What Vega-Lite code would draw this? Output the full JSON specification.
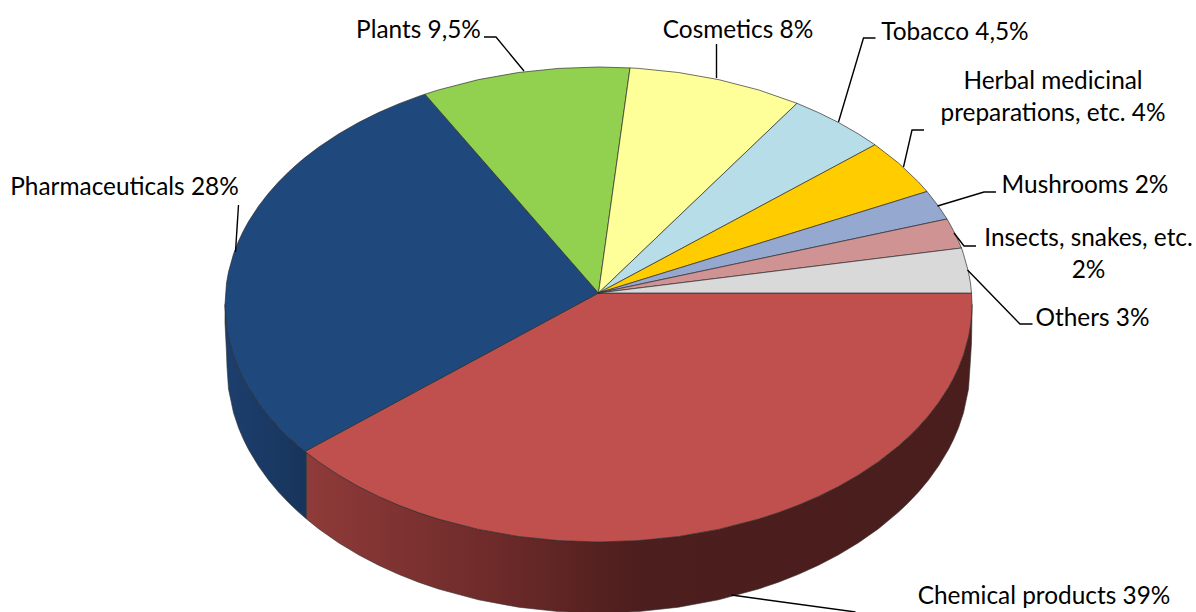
{"$schema":"https://vega.github.io/schema/vega-lite/v6.json","width":1196,"height":612,"padding":0,"autosize":{"type":"none"},"background":"white","view":{"stroke":null},
"datasets":{
"walls":[
{"wall":"Pharmaceuticals","x":-373.5,"y":-11.5,"y2":-30},{"wall":"Pharmaceuticals","x":-372,"y":-32.8,"y2":-60},{"wall":"Pharmaceuticals","x":-371.5,"y":-36,"y2":-74},{"wall":"Pharmaceuticals","x":-370,"y":-43.9,"y2":-96},{"wall":"Pharmaceuticals","x":-365,"y":-61.9,"y2":-119.8},{"wall":"Pharmaceuticals","x":-360,"y":-74.8,"y2":-134.8},{"wall":"Pharmaceuticals","x":-355,"y":-85.3,"y2":-146.5},{"wall":"Pharmaceuticals","x":-350,"y":-94.4,"y2":-156.5},{"wall":"Pharmaceuticals","x":-340,"y":-109.8,"y2":-173.1},{"wall":"Pharmaceuticals","x":-330,"y":-122.7,"y2":-187},{"wall":"Pharmaceuticals","x":-320,"y":-134,"y2":-199},{"wall":"Pharmaceuticals","x":-310,"y":-144,"y2":-209.6},{"wall":"Pharmaceuticals","x":-300,"y":-153,"y2":-219.1},{"wall":"Pharmaceuticals","x":-292,"y":-159.6,"y2":-226},
{"wall":"Chemical products","x":-292,"y":-159.6,"y2":-226},{"wall":"Chemical products","x":-280,"y":-168.7,"y2":-235.7},{"wall":"Chemical products","x":-260,"y":-182,"y2":-249.7},{"wall":"Chemical products","x":-240,"y":-193.5,"y2":-261.8},{"wall":"Chemical products","x":-220,"y":-203.4,"y2":-272.2},{"wall":"Chemical products","x":-200,"y":-212.1,"y2":-281.3},{"wall":"Chemical products","x":-180,"y":-219.6,"y2":-289.2},{"wall":"Chemical products","x":-160,"y":-226.1,"y2":-296},{"wall":"Chemical products","x":-120,"y":-236.4,"y2":-306.8},{"wall":"Chemical products","x":-80,"y":-243.5,"y2":-314.2},{"wall":"Chemical products","x":-40,"y":-247.6,"y2":-318.6},{"wall":"Chemical products","x":0,"y":-249,"y2":-320},{"wall":"Chemical products","x":40,"y":-247.6,"y2":-318.6},{"wall":"Chemical products","x":80,"y":-243.5,"y2":-314.2},{"wall":"Chemical products","x":120,"y":-236.4,"y2":-306.8},{"wall":"Chemical products","x":160,"y":-226.1,"y2":-296},{"wall":"Chemical products","x":180,"y":-219.6,"y2":-289.2},{"wall":"Chemical products","x":200,"y":-212.1,"y2":-281.3},{"wall":"Chemical products","x":220,"y":-203.4,"y2":-272.2},{"wall":"Chemical products","x":240,"y":-193.5,"y2":-261.8},{"wall":"Chemical products","x":260,"y":-182,"y2":-249.7},{"wall":"Chemical products","x":280,"y":-168.7,"y2":-235.7},{"wall":"Chemical products","x":300,"y":-153,"y2":-219.1},{"wall":"Chemical products","x":310,"y":-144,"y2":-209.6},{"wall":"Chemical products","x":320,"y":-134,"y2":-199},{"wall":"Chemical products","x":330,"y":-122.7,"y2":-187},{"wall":"Chemical products","x":340,"y":-109.8,"y2":-173.1},{"wall":"Chemical products","x":350,"y":-94.4,"y2":-156.5},{"wall":"Chemical products","x":355,"y":-85.3,"y2":-146.5},{"wall":"Chemical products","x":360,"y":-74.8,"y2":-134.8},{"wall":"Chemical products","x":365,"y":-61.9,"y2":-119.8},{"wall":"Chemical products","x":370,"y":-43.9,"y2":-96},{"wall":"Chemical products","x":371.5,"y":-36,"y2":-74},{"wall":"Chemical products","x":373,"y":-23.8,"y2":-50},{"wall":"Chemical products","x":373.5,"y":-11.5,"y2":-20}
],
"slices":[
{"slice":"Chemical products","x":-293.5,"y":-158.4,"y2":-158.4},{"slice":"Chemical products","x":-280,"y":-151.1,"y2":-168.7},{"slice":"Chemical products","x":-260,"y":-140.3,"y2":-182},{"slice":"Chemical products","x":-240,"y":-129.5,"y2":-193.5},{"slice":"Chemical products","x":-220,"y":-118.7,"y2":-203.4},{"slice":"Chemical products","x":-200,"y":-107.9,"y2":-212.1},{"slice":"Chemical products","x":-180,"y":-97.1,"y2":-219.6},{"slice":"Chemical products","x":-160,"y":-86.4,"y2":-226.1},{"slice":"Chemical products","x":-120,"y":-64.8,"y2":-236.4},{"slice":"Chemical products","x":-80,"y":-43.2,"y2":-243.5},{"slice":"Chemical products","x":-40,"y":-21.6,"y2":-247.6},{"slice":"Chemical products","x":0,"y":0,"y2":-249},{"slice":"Chemical products","x":40,"y":0,"y2":-247.6},{"slice":"Chemical products","x":80,"y":0,"y2":-243.5},{"slice":"Chemical products","x":120,"y":0,"y2":-236.4},{"slice":"Chemical products","x":160,"y":0,"y2":-226.1},{"slice":"Chemical products","x":180,"y":0,"y2":-219.6},{"slice":"Chemical products","x":200,"y":0,"y2":-212.1},{"slice":"Chemical products","x":220,"y":0,"y2":-203.4},{"slice":"Chemical products","x":240,"y":0,"y2":-193.5},{"slice":"Chemical products","x":260,"y":0,"y2":-182},{"slice":"Chemical products","x":280,"y":0,"y2":-168.7},{"slice":"Chemical products","x":300,"y":0,"y2":-153},{"slice":"Chemical products","x":310,"y":0,"y2":-144},{"slice":"Chemical products","x":320,"y":0,"y2":-134},{"slice":"Chemical products","x":330,"y":0,"y2":-122.7},{"slice":"Chemical products","x":340,"y":0,"y2":-109.8},{"slice":"Chemical products","x":350,"y":0,"y2":-94.4},{"slice":"Chemical products","x":355,"y":0,"y2":-85.3},{"slice":"Chemical products","x":360,"y":0,"y2":-74.8},{"slice":"Chemical products","x":365,"y":0,"y2":-61.9},{"slice":"Chemical products","x":370,"y":0,"y2":-43.9},{"slice":"Chemical products","x":372,"y":0,"y2":-32.8},{"slice":"Chemical products","x":373,"y":0,"y2":-23.8},{"slice":"Chemical products","x":373.5,"y":-11.5,"y2":-11.5},
{"slice":"Pharmaceuticals","x":-373.5,"y":-11.5,"y2":-11.5},{"slice":"Pharmaceuticals","x":-372,"y":9.8,"y2":-32.8},{"slice":"Pharmaceuticals","x":-370,"y":20.9,"y2":-43.9},{"slice":"Pharmaceuticals","x":-365,"y":38.9,"y2":-61.9},{"slice":"Pharmaceuticals","x":-360,"y":51.8,"y2":-74.8},{"slice":"Pharmaceuticals","x":-355,"y":62.3,"y2":-85.3},{"slice":"Pharmaceuticals","x":-350,"y":71.4,"y2":-94.4},{"slice":"Pharmaceuticals","x":-340,"y":86.8,"y2":-109.8},{"slice":"Pharmaceuticals","x":-330,"y":99.7,"y2":-122.7},{"slice":"Pharmaceuticals","x":-320,"y":111,"y2":-134},{"slice":"Pharmaceuticals","x":-310,"y":121,"y2":-144},{"slice":"Pharmaceuticals","x":-300,"y":130,"y2":-153},{"slice":"Pharmaceuticals","x":-293.5,"y":135.4,"y2":-158.4},{"slice":"Pharmaceuticals","x":-280,"y":145.7,"y2":-151.1},{"slice":"Pharmaceuticals","x":-260,"y":159,"y2":-140.3},{"slice":"Pharmaceuticals","x":-240,"y":170.5,"y2":-129.5},{"slice":"Pharmaceuticals","x":-220,"y":180.4,"y2":-118.7},{"slice":"Pharmaceuticals","x":-200,"y":189.1,"y2":-107.9},{"slice":"Pharmaceuticals","x":-180,"y":196.6,"y2":-97.1},{"slice":"Pharmaceuticals","x":-173.5,"y":198.8,"y2":-93.6},{"slice":"Pharmaceuticals","x":-160,"y":183.3,"y2":-86.4},{"slice":"Pharmaceuticals","x":-120,"y":137.5,"y2":-64.8},{"slice":"Pharmaceuticals","x":-80,"y":91.7,"y2":-43.2},{"slice":"Pharmaceuticals","x":-40,"y":45.8,"y2":-21.6},{"slice":"Pharmaceuticals","x":0,"y":0,"y2":0},
{"slice":"Plants","x":-173.5,"y":198.8,"y2":198.8},{"slice":"Plants","x":-160,"y":203.1,"y2":183.3},{"slice":"Plants","x":-120,"y":213.4,"y2":137.5},{"slice":"Plants","x":-80,"y":220.5,"y2":91.7},{"slice":"Plants","x":-40,"y":224.6,"y2":45.8},{"slice":"Plants","x":0,"y":226,"y2":0},{"slice":"Plants","x":31.5,"y":225.1,"y2":225.1},
{"slice":"Cosmetics","x":0,"y":0,"y2":0},{"slice":"Cosmetics","x":31.5,"y":225.1,"y2":30.1},{"slice":"Cosmetics","x":40,"y":224.6,"y2":38.2},{"slice":"Cosmetics","x":80,"y":220.5,"y2":76.5},{"slice":"Cosmetics","x":120,"y":213.4,"y2":114.7},{"slice":"Cosmetics","x":160,"y":203.1,"y2":152.9},{"slice":"Cosmetics","x":198.5,"y":189.7,"y2":189.7},
{"slice":"Tobacco","x":0,"y":0,"y2":0},{"slice":"Tobacco","x":198.5,"y":189.7,"y2":106.4},{"slice":"Tobacco","x":220,"y":180.4,"y2":117.9},{"slice":"Tobacco","x":240,"y":170.5,"y2":128.6},{"slice":"Tobacco","x":260,"y":159,"y2":139.4},{"slice":"Tobacco","x":276.5,"y":148.2,"y2":148.2},
{"slice":"Herbal medicinal preparations, etc.","x":0,"y":0,"y2":0},{"slice":"Herbal medicinal preparations, etc.","x":276.5,"y":148.2,"y2":85.4},{"slice":"Herbal medicinal preparations, etc.","x":300,"y":130,"y2":92.7},{"slice":"Herbal medicinal preparations, etc.","x":320,"y":111,"y2":98.9},{"slice":"Herbal medicinal preparations, etc.","x":328.5,"y":101.5,"y2":101.5},
{"slice":"Mushrooms","x":0,"y":0,"y2":0},{"slice":"Mushrooms","x":328.5,"y":101.5,"y2":69.8},{"slice":"Mushrooms","x":340,"y":86.8,"y2":72.2},{"slice":"Mushrooms","x":348.5,"y":74,"y2":74},
{"slice":"Insects, snakes, etc.","x":0,"y":0,"y2":0},{"slice":"Insects, snakes, etc.","x":348.5,"y":74,"y2":43.2},{"slice":"Insects, snakes, etc.","x":350,"y":71.4,"y2":43.4},{"slice":"Insects, snakes, etc.","x":355,"y":62.3,"y2":44},{"slice":"Insects, snakes, etc.","x":360,"y":51.8,"y2":44.6},{"slice":"Insects, snakes, etc.","x":363,"y":45,"y2":45},
{"slice":"Others","x":0,"y":0,"y2":0},{"slice":"Others","x":363,"y":45,"y2":0},{"slice":"Others","x":365,"y":38.9,"y2":0},{"slice":"Others","x":370,"y":20.9,"y2":0},{"slice":"Others","x":372,"y":9.8,"y2":0},{"slice":"Others","x":373,"y":0,"y2":0}
],
"leaders":[
{"slice":"Plants","step":1,"x":-114.5,"y":256},{"slice":"Plants","step":2,"x":-102.5,"y":256},{"slice":"Plants","step":3,"x":-74.5,"y":222},
{"slice":"Cosmetics","step":1,"x":118,"y":249},{"slice":"Cosmetics","step":2,"x":118,"y":215},
{"slice":"Tobacco","step":1,"x":277,"y":255},{"slice":"Tobacco","step":2,"x":265,"y":255},{"slice":"Tobacco","step":3,"x":240,"y":171},
{"slice":"Herbal","step":1,"x":325.5,"y":163},{"slice":"Herbal","step":2,"x":313.5,"y":163},{"slice":"Herbal","step":3,"x":305,"y":126},
{"slice":"Mushrooms","step":1,"x":397.5,"y":101},{"slice":"Mushrooms","step":2,"x":385.5,"y":101},{"slice":"Mushrooms","step":3,"x":339,"y":87},
{"slice":"Insects","step":1,"x":377.5,"y":47},{"slice":"Insects","step":2,"x":365.5,"y":47},{"slice":"Insects","step":3,"x":355.5,"y":60},
{"slice":"Others","step":1,"x":434,"y":-31},{"slice":"Others","step":2,"x":421.5,"y":-31},{"slice":"Others","step":3,"x":369,"y":23},
{"slice":"Pharmaceuticals","step":1,"x":-360,"y":88},{"slice":"Pharmaceuticals","step":2,"x":-363,"y":41},
{"slice":"Chemical","step":1,"x":133,"y":-302},{"slice":"Chemical","step":2,"x":257,"y":-319}
],
"labels":[
{"label":"Plants 9,5%","share":9.5,"x":-180,"y":262.5},
{"label":"Cosmetics 8%","share":8,"x":139.5,"y":262.5},
{"label":"Tobacco 4,5%","share":4.5,"x":356.5,"y":260.5},
{"label":"Herbal medicinal\npreparations, etc. 4%","share":4,"x":454.5,"y":211},
{"label":"Mushrooms 2%","share":2,"x":486.5,"y":107.5},
{"label":"Insects, snakes, etc.\n2%","share":2,"x":490,"y":54},
{"label":"Others 3%","share":3,"x":494,"y":-25.5},
{"label":"Chemical products 39%","share":39,"x":445.5,"y":-303.5},
{"label":"Pharmaceuticals 28%","share":28,"x":-474,"y":105.5}
]},
"encoding":{
"x":{"field":"x","type":"quantitative","axis":null,"scale":{"domain":[-598.5,597.5],"nice":false,"zero":false}},
"y":{"field":"y","type":"quantitative","axis":null,"scale":{"domain":[-319,293],"nice":false,"zero":false}}
},
"layer":[
{"data":{"name":"walls"},"transform":[{"filter":"datum.wall==='Pharmaceuticals'"}],"mark":{"type":"area","stroke":"#333333","strokeWidth":0.6,"color":{"gradient":"linear","x1":0,"y1":0,"x2":1,"y2":0,"stops":[{"offset":0,"color":"#1d3f6e"},{"offset":1,"color":"#17345b"}]}},"encoding":{"y2":{"field":"y2"}}},
{"data":{"name":"walls"},"transform":[{"filter":"datum.wall==='Chemical products'"}],"mark":{"type":"area","stroke":"#333333","strokeWidth":0.6,"color":{"gradient":"linear","x1":0,"y1":0,"x2":1,"y2":0,"stops":[{"offset":0,"color":"#8f3b39"},{"offset":0.29,"color":"#6c2a29"},{"offset":0.5,"color":"#4c1e1d"},{"offset":1,"color":"#4a1e1d"}]}},"encoding":{"y2":{"field":"y2"}}},
{"data":{"name":"slices"},"mark":{"type":"area","stroke":"#2a2a2a","strokeWidth":0.8,"strokeOpacity":0.85},"encoding":{"y2":{"field":"y2"},"color":{"field":"slice","type":"nominal","legend":null,"scale":{"domain":["Chemical products","Pharmaceuticals","Plants","Cosmetics","Tobacco","Herbal medicinal preparations, etc.","Mushrooms","Insects, snakes, etc.","Others"],"range":["#c0504d","#1f497d","#92d050","#ffff99","#b7dee8","#ffcc00","#95a9d0","#d09393","#d9d9d9"]}}}},
{"data":{"name":"leaders"},"mark":{"type":"line","color":"#000000","strokeWidth":1.4,"clip":true},"encoding":{"detail":{"field":"slice"},"order":{"field":"step","type":"quantitative"}}},
{"data":{"name":"labels"},"mark":{"type":"text","font":"Lato","fontSize":24.4,"color":"#000000","align":"center","baseline":"middle","lineBreak":"\n","lineHeight":32},"encoding":{"text":{"field":"label"}}}
]}
